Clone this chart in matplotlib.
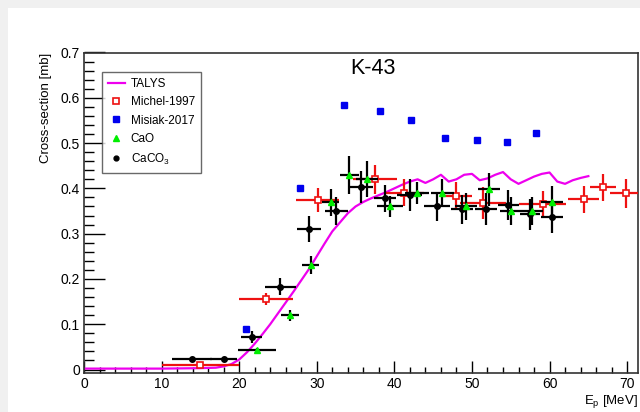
import matplotlib
matplotlib.use("Agg")
import matplotlib.pyplot as plt
from matplotlib.lines import Line2D
from matplotlib.patches import Rectangle
from matplotlib.ticker import MultipleLocator

plt.rcParams['font.family'] = ['Liberation Sans', 'DejaVu Sans']
plt.rcParams['mathtext.default'] = 'regular'

# TALYS calculation
talys_e = [0, 5, 10, 15, 17, 18, 19, 20, 21, 22, 23, 24, 25, 26, 27, 28, 29, 30,
           31, 32, 33, 34, 35, 36, 37, 38, 39, 40, 41, 42, 43, 44, 45, 46, 47, 48,
           49, 50, 51, 52, 53, 54, 55, 56, 57, 58, 59, 60, 61, 62, 63, 64, 65]
talys_xs = [0.002, 0.002, 0.002, 0.003, 0.004, 0.007, 0.012, 0.022, 0.038, 0.057,
            0.078, 0.100, 0.124, 0.148, 0.172, 0.197, 0.222, 0.250, 0.278, 0.305,
            0.325, 0.345, 0.360, 0.370, 0.378, 0.385, 0.392, 0.400, 0.408, 0.415,
            0.420, 0.412, 0.420, 0.430, 0.415, 0.420, 0.430, 0.432, 0.418, 0.422,
            0.430, 0.436, 0.420, 0.410, 0.418, 0.426, 0.432, 0.435, 0.415, 0.410,
            0.418, 0.423, 0.427]

# Michel-1997
michel_e = [15.0, 23.5, 30.1, 37.5, 41.3, 48.0, 51.4, 59.1, 64.4, 66.9, 69.8]
michel_xs = [0.009, 0.155, 0.374, 0.420, 0.390, 0.383, 0.367, 0.365, 0.376, 0.402, 0.389]
michel_dx = [5.0, 3.5, 2.8, 2.8, 2.5, 2.0, 3.0, 3.0, 2.0, 1.7, 2.0]
michel_dy = [0.004, 0.013, 0.026, 0.032, 0.030, 0.030, 0.035, 0.030, 0.030, 0.030, 0.032]

# Misiak-2017
misiak_e = [20.9, 27.9, 33.5, 38.1, 42.2, 46.5, 50.7, 54.5, 58.3]
misiak_xs = [0.090, 0.400, 0.585, 0.570, 0.552, 0.511, 0.506, 0.502, 0.522]

# CaCO3 target
caco3_e = [13.9, 18.0, 21.6, 25.3, 29.0, 32.5, 35.7, 38.8, 42.0, 45.5, 48.7, 51.8, 54.7, 57.5, 60.3]
caco3_xs = [0.024, 0.024, 0.072, 0.183, 0.310, 0.350, 0.403, 0.378, 0.385, 0.360,
            0.354, 0.354, 0.363, 0.343, 0.336]
caco3_dx = [2.6, 1.7, 1.4, 2.0, 1.6, 1.5, 1.6, 1.4, 1.6, 1.7, 1.4, 1.4, 1.4, 1.3, 1.4]
caco3_dy = [0.004, 0.004, 0.013, 0.018, 0.028, 0.030, 0.035, 0.030, 0.036, 0.031,
            0.032, 0.035, 0.033, 0.034, 0.035]

# CaO target
cao_e = [22.3, 26.6, 29.2, 31.8, 34.2, 36.5, 39.4, 42.9, 46.2, 49.2, 52.2, 55.0, 57.8, 60.3]
cao_xs = [0.042, 0.120, 0.231, 0.369, 0.430, 0.420, 0.360, 0.390, 0.390, 0.360,
          0.398, 0.350, 0.350, 0.370]
cao_dx = [2.45, 1.15, 1.15, 1.1, 1.2, 1.4, 1.7, 1.5, 1.5, 1.4, 1.4, 1.4, 1.4, 1.4]
cao_dy = [0.005, 0.012, 0.020, 0.030, 0.042, 0.040, 0.024, 0.024, 0.031, 0.030,
          0.037, 0.030, 0.030, 0.035]

W, H = 640, 412
fig = plt.figure(figsize=(W / 100, H / 100), dpi=100, facecolor='#f0f0f0')
fig.patches.append(Rectangle((8 / W, 0), 1, 1 - 8 / H, transform=fig.transFigure,
                             facecolor='white', edgecolor='none', zorder=-10))

ax = fig.add_axes([84 / W, 1 - 373 / H, 554 / W, 320.5 / H])
ax.set_facecolor('white')

magenta = '#ee00ee'
ax.plot(talys_e, talys_xs, color=magenta, lw=1.6, zorder=2)

ax.errorbar(michel_e, michel_xs, xerr=michel_dx, yerr=michel_dy, fmt='s',
            color='#ee1111', mfc='white', mec='#ee1111', ms=4.5, mew=1.2,
            elinewidth=1.6, capsize=0, zorder=3)
ax.plot(misiak_e, misiak_xs, 's', color='#0000ee', ms=4.5, zorder=4)
ax.errorbar(caco3_e, caco3_xs, xerr=caco3_dx, yerr=caco3_dy, fmt='o',
            color='black', ms=4, elinewidth=1.6, capsize=0, zorder=5)
ax.errorbar(cao_e, cao_xs, xerr=cao_dx, yerr=cao_dy, fmt='none',
            ecolor='black', elinewidth=1.6, capsize=0, zorder=5)
ax.plot(cao_e, cao_xs, '^', color='#00ee00', ms=5, zorder=6)

ax.set_xlim(0, 71.4)
ax.set_ylim(-0.0077, 0.7)
ax.xaxis.set_major_locator(MultipleLocator(10))
ax.xaxis.set_minor_locator(MultipleLocator(2))
ax.yaxis.set_major_locator(MultipleLocator(0.1))
ax.yaxis.set_minor_locator(MultipleLocator(0.02))
ax.set_yticklabels(['0' if abs(v) < 1e-9 else f'{v:.1f}' for v in ax.get_yticks()])
ax.tick_params(axis='both', which='both', direction='in', labelsize=10,
               top=False, right=False, width=1)
ax.tick_params(axis='x', which='major', length=9, pad=3)
ax.tick_params(axis='x', which='minor', length=4.5)
ax.tick_params(axis='y', which='major', length=15, pad=3)
ax.tick_params(axis='y', which='minor', length=7.5)
for s in ax.spines.values():
    s.set_linewidth(1.2)
    s.set_color('#333333')

ax.set_ylabel('Cross-section [mb]', fontsize=9.5, loc='top', labelpad=6)
ax.set_xlabel('E$_{p}$ [MeV]', fontsize=9.5, loc='right', labelpad=1)

fig.text(373 / W, 1 - 69 / H, 'K-43', fontsize=15.5, ha='center', va='center')

handles = [
    Line2D([], [], color=magenta, lw=1.6),
    Line2D([], [], marker='s', ls='none', color='#ee1111', mfc='white', ms=4.5, mew=1.2),
    Line2D([], [], marker='s', ls='none', color='#0000ee', ms=4.5),
    Line2D([], [], marker='^', ls='none', color='#00ee00', ms=5),
    Line2D([], [], marker='o', ls='none', color='black', ms=3.5),
]
labels = ['TALYS', 'Michel-1997', 'Misiak-2017', 'CaO', 'CaCO$_3$']
leg = ax.legend(handles, labels, loc='upper left', bbox_to_anchor=(0.033, 0.94),
                fontsize=8.5, frameon=True, fancybox=False, handlelength=1.4,
                handletextpad=0.5, borderpad=0.5, labelspacing=0.55,
                borderaxespad=0)
leg.get_frame().set_edgecolor('#444444')
leg.get_frame().set_linewidth(1)

fig.savefig('out.png', dpi=100, facecolor=fig.get_facecolor())
